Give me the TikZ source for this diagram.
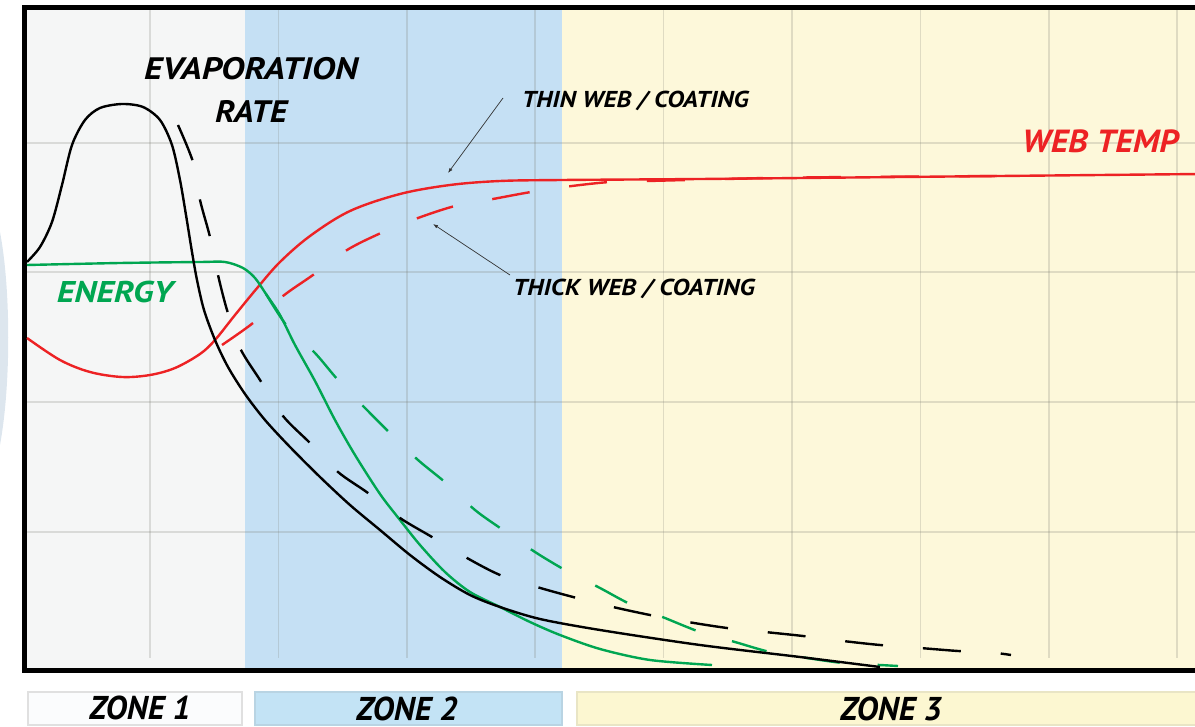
\documentclass[tikz,border=0pt]{standalone}
\usepackage{fontspec}
\setmainfont{PT Sans}
\usetikzlibrary{arrows.meta}
\definecolor{zoneA}{RGB}{245,246,246}
\definecolor{zoneB}{RGB}{197,224,244}
\definecolor{zoneC}{RGB}{253,248,218}
\definecolor{boxA}{RGB}{251,252,253}
\definecolor{boxB}{RGB}{195,227,245}
\definecolor{boxC}{RGB}{252,247,209}
\definecolor{cRed}{RGB}{237,34,36}
\definecolor{cGreen}{RGB}{0,166,81}
\definecolor{gridc}{RGB}{120,120,110}
\definecolor{sliver}{RGB}{221,230,238}
\tikzset{
  curve/.style={line width=2.4pt, line join=round},
  dashbk/.style={dash pattern=on 38pt off 40pt},
  dashgr/.style={dash pattern=on 36pt off 38pt},
  dashrd/.style={dash pattern=on 38pt off 40pt},
  gridline/.style={draw=gridc, draw opacity=0.22, line width=1.6pt},
  lbl/.style={inner sep=0pt, font=\bfseries\itshape},
  zlbl/.style={inner sep=0pt, font=\bfseries\itshape, text depth=0pt},
  leader/.style={draw=black!80, line width=0.7pt, -{Latex[length=5pt,width=3.5pt]}},
  zonebox/.style={line width=1.5pt}
}
\begin{document}
\begin{tikzpicture}[x=1pt,y=-1pt]
\useasboundingbox (0,0) rectangle (1195,727);
% sliver at far left
\fill[sliver] (0,232) .. controls (11,290) and (11,385) .. (0,445) -- cycle;
% zone backgrounds
\fill[zoneA] (27,10) rectangle (245,668);
\fill[zoneB] (245,10) rectangle (562,668);
\fill[zoneC] (562,10) rectangle (1200,668);
% grid
\foreach \gx in {150,278.4,406.8,535.2,663.6,792,920.4,1048.8,1177.2}
  \draw[gridline] (\gx,10) -- (\gx,658);
\foreach \gy in {143,272,402,532}
  \draw[gridline] (27,\gy) -- (1200,\gy);
% frame
\draw[line width=5pt, line cap=rect] (1200,7.5) -- (24.5,7.5) -- (24.5,670) -- (1200,670);
% zone boxes
\draw[zonebox, draw=black!12, fill=boxA] (28,692) rectangle (242,725);
\draw[zonebox, draw=boxB!85!gray, fill=boxB] (255,692) rectangle (562,725);
\draw[zonebox, draw=boxC!85!gray, fill=boxC] (577,692) rectangle (1205,725);
% red solid (web temp, thin web)
\draw[curve, cRed] plot[smooth, tension=0.55] coordinates {(27,338) (60,360) (90,372) (122,377) (150,375) (175,368) (200,354) (215,340) (235,315) (258,287) (280,262) (310,236) (350,211) (400,194) (450,185) (500,181) (562,180) (700,179) (900,177) (1200,174)};
% red dashed (thick web)
\draw[curve, cRed, dashrd] plot[smooth, tension=0.5] coordinates {(222,345) (253,323) (283,296) (313,275) (347,250) (381,233) (418,218) (455,206) (493,199) (531,192) (572,186) (610,182) (648,181) (687,180) (727,179) (767,178) (850,177) (1000,176)};
% green solid (energy, thin)
\draw[curve, cGreen] plot[smooth, tension=0.5] coordinates {(27,265) (120,263) (200,262) (225,262) (243,268) (255,278) (266,294) (280,315) (295,345) (315,381) (335,420) (355,455) (380,494) (400,520) (420,545) (445,572) (470,592) (500,607) (530,622) (560,635) (600,649) (650,660) (712,665)};
% green dashed (energy, thick)
\draw[curve, cGreen, dashgr] plot[smooth, tension=0.5] coordinates {(266,294) (287,326) (315,353) (338,380) (365,408) (392,435) (418,460) (446,483) (475,510) (503,530) (535,552) (565,570) (600,588) (630,604) (665,618) (700,632) (735,642) (770,652) (807,658) (843,663) (880,665) (898,666)};
% black solid (evaporation, thin)
\draw[curve, black] plot[smooth, tension=0.5] coordinates {(27,262) (40,247) (52,222) (62,185) (72,145) (85,120) (100,108) (122,104) (143,107) (160,120) (172,145) (180,180) (186,215) (192,252) (197,280) (204,310) (215,340) (228,367) (245,394) (265,420) (290,447) (320,477) (350,505) (380,530) (410,555) (440,577) (470,595) (500,607) (540,619) (600,630) (700,645) (800,657) (880,667)};
% black dashed (evaporation, thick)
\draw[curve, black, dashbk] plot[smooth, tension=0.5] coordinates {(178,125) (193,162) (200,200) (210,237) (218,275) (227,310) (240,348) (260,380) (283,416) (310,443) (338,472) (368,493) (400,518) (432,537) (467,558) (500,575) (537,587) (573,597) (613,607) (650,615) (688,622) (727,628) (765,632) (803,636) (843,641) (880,645) (920,648) (958,651) (995,653) (1011,655)};
% labels
\node[lbl, anchor=base] (evap) at (251,80) {\fontsize{31}{31}\selectfont\scalebox{1.16}[1]{EVAPORATION}};
\node[lbl, anchor=base] (rate) at (251,123) {\fontsize{31}{31}\selectfont\scalebox{1.1}[1]{RATE}};
\node[lbl, anchor=base, text=cGreen] (energy) at (115,303) {\fontsize{30}{30}\selectfont\scalebox{1.16}[1]{ENERGY}};
\node[lbl, anchor=base west, text=cRed] (webtemp) at (1022,153) {\fontsize{32}{32}\selectfont\scalebox{1.08}[1]{WEB TEMP}};
\node[lbl, anchor=base west] (thin) at (522,108) {\fontsize{23}{23}\selectfont\scalebox{1.12}[1]{THIN WEB / COATING}};
\node[lbl, anchor=base west] (thick) at (513,296) {\fontsize{23}{23}\selectfont\scalebox{1.13}[1]{THICK WEB / COATING}};
\node[zlbl, anchor=base] (z1) at (140,719) {\fontsize{33}{33}\selectfont ZONE 1};
\node[zlbl, anchor=base] (z2) at (407,720) {\fontsize{33}{33}\selectfont ZONE 2};
\node[zlbl, anchor=base] (z3) at (891,720) {\fontsize{33}{33}\selectfont ZONE 3};
% leaders
\coordinate (thinfrom) at (503,98);
\coordinate (thinto) at (448,173);
\coordinate (thickfrom) at (510,275);
\coordinate (thickto) at (433,224);
\draw[leader] (thinfrom) -- (thinto);
\draw[leader] (thickfrom) -- (thickto);
\end{tikzpicture}
\end{document}
